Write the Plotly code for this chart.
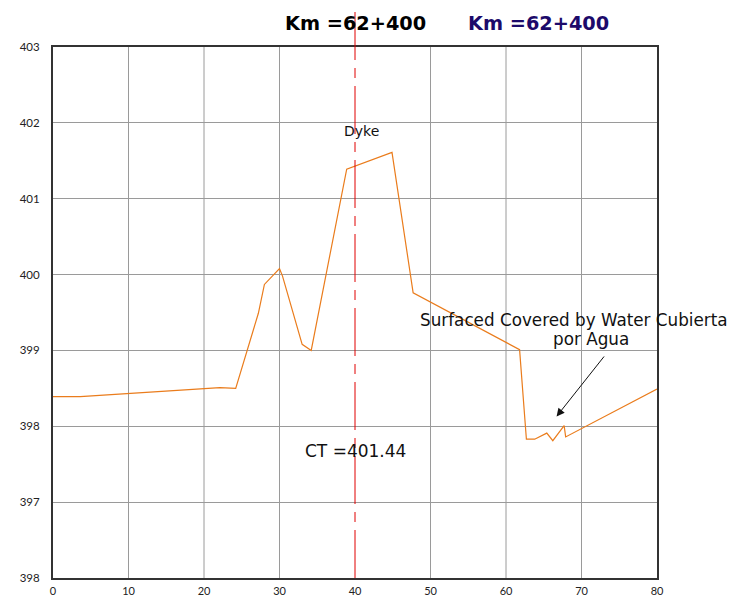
import plotly.graph_objects as go

# profile data (station, elevation)
stations = [0.0, 3.6, 22.1, 24.2, 27.2, 28.0, 30.0, 30.4, 33.0, 34.2, 38.9, 44.9,
            47.7, 58.5, 61.8, 62.7, 63.8, 65.4, 66.2, 67.7, 67.9, 80.0]
elevations = [398.39, 398.39, 398.51, 398.50, 399.49, 399.87, 400.08, 399.98, 399.08, 399.00,
              401.39, 401.61, 399.76, 399.19, 399.01, 397.83, 397.83, 397.91, 397.81, 398.01,
              397.86, 398.49]

x_ticks = [0, 10, 20, 30, 40, 50, 60, 70, 80]
y_ticks = [396, 397, 398, 399, 400, 401, 402, 403]
y_tick_labels = ["398", "397", "398", "399", "400", "401", "402", "403"]

axis_station = 40
title_text = "Km =62+400"

fig = go.Figure()

# vertical grid lines (the centre station carries the dash-dot axis instead)
for xv in x_ticks[1:-1]:
    if xv == axis_station:
        continue
    fig.add_shape(type="line", xref="x", yref="paper", x0=xv, x1=xv, y0=0, y1=1,
                  layer="below", line=dict(color="#9a9a9a", width=1))

fig.add_trace(go.Scatter(x=stations, y=elevations, mode="lines",
                         line=dict(color="#ea7c1c", width=1.2), hoverinfo="skip",
                         showlegend=False))

fig.add_shape(type="line", xref="x", yref="paper", x0=axis_station, x1=axis_station,
              y0=0, y1=1.075, line=dict(color="#e00000", width=1, dash="48px,8px,10px,8px"))

cad_font = "DejaVu Sans"
fig.add_annotation(x=40.9, y=401.89, text="Dyke", showarrow=False,
                   font=dict(family=cad_font, size=14, color="#111"))
fig.add_annotation(x=40.0, y=397.67, text="CT =401.44", showarrow=False,
                   font=dict(family=cad_font, size=17, color="#111"))
fig.add_annotation(x=69.0, y=399.40, text="Surfaced Covered by Water Cubierta",
                   showarrow=False, font=dict(family=cad_font, size=16.8, color="#111"))
fig.add_annotation(x=71.3, y=399.15, text="por Agua",
                   showarrow=False, font=dict(family=cad_font, size=16.8, color="#111"))
fig.add_annotation(x=66.7, y=398.13, ax=73.15, ay=398.94, xref="x", yref="y",
                   axref="x", ayref="y", text="", showarrow=True, arrowhead=2,
                   arrowsize=1.6, arrowwidth=1, arrowcolor="#111")

title_y = 1 + (47 - 24) / 531
fig.add_annotation(x=40.0, y=title_y, xref="x", yref="paper", yanchor="middle",
                   text="<b>" + title_text + "</b>", showarrow=False,
                   font=dict(family="DejaVu Sans", size=19.3, color="#000"))
fig.add_annotation(x=64.3, y=title_y, xref="x", yref="paper", yanchor="middle",
                   text="<b>" + title_text + "</b>", showarrow=False,
                   font=dict(family="DejaVu Sans", size=19.3, color="#1c0a6a"))

fig.update_xaxes(range=[0, 80], tickvals=x_ticks, showgrid=False,
                 zeroline=False, showline=True, linecolor="#333",
                 linewidth=2, mirror=True, ticks="", automargin=False, ticklabelstandoff=2,
                 tickfont=dict(family="Lato", size=11, color="#222"))
fig.update_yaxes(range=[396, 403], tickvals=y_ticks, ticktext=y_tick_labels,
                 showgrid=True, gridcolor="#9a9a9a", gridwidth=1, zeroline=False,
                 showline=True, linecolor="#333", linewidth=2, mirror=True, ticks="",
                 automargin=False, ticklabelstandoff=9,
                 tickfont=dict(family="Lato", size=11.5, color="#222"))

fig.update_layout(width=730, height=589, margin=dict(l=45, r=81, t=39, b=19),
                  plot_bgcolor="white", paper_bgcolor="white", showlegend=False)

fig.write_html("out.html")
